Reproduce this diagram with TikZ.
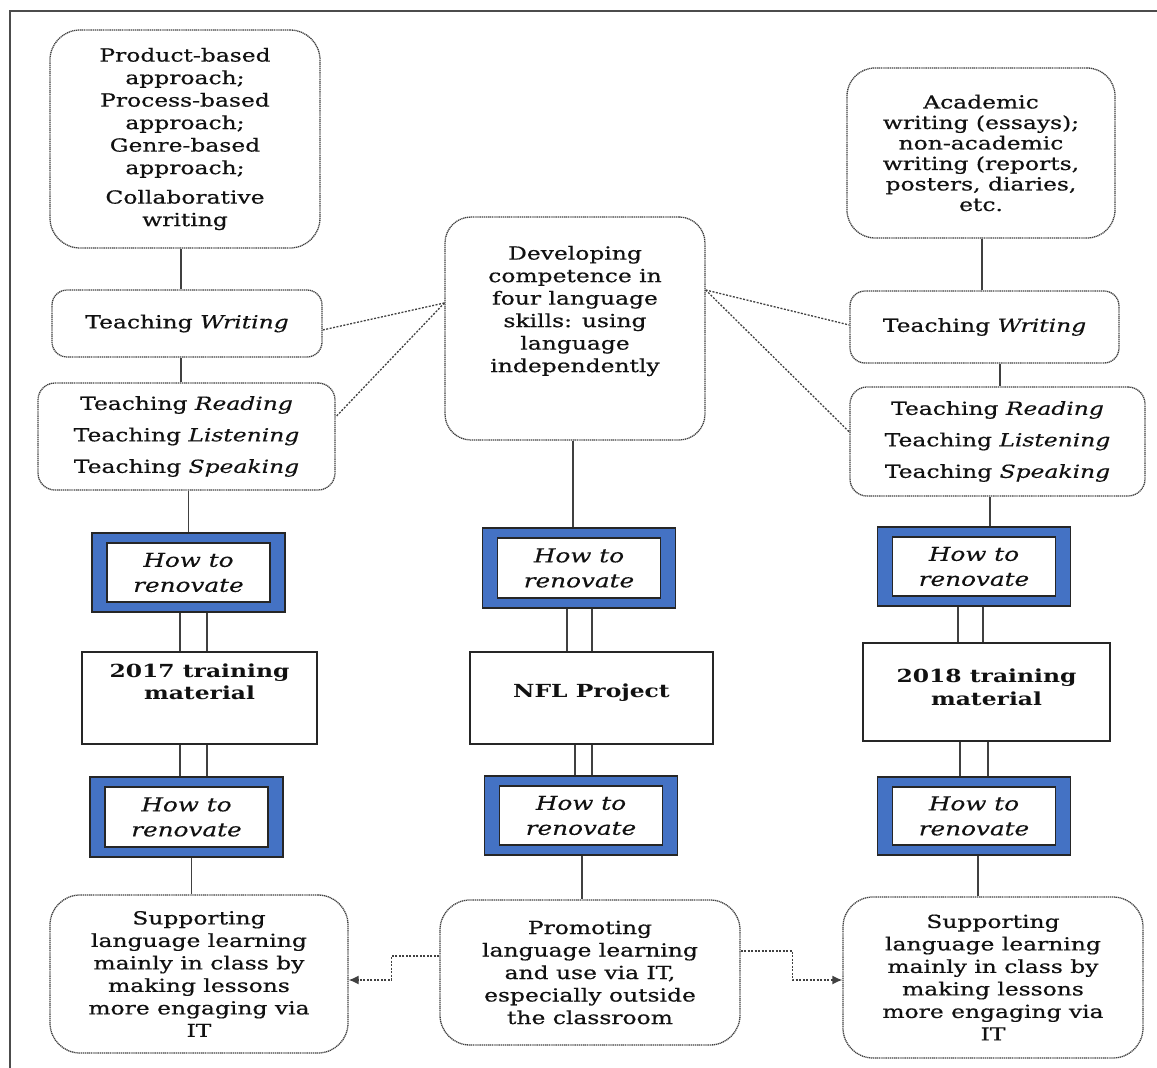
\documentclass[tikz,border=0pt]{standalone}
\usepackage{fontspec}
\setmainfont{DejaVu Serif}[FakeStretch=1.3,
  UprightFeatures={FakeBold=0.6},
  ItalicFeatures={FakeBold=0.3}]
\usetikzlibrary{arrows.meta}
\definecolor{ink}{HTML}{111111}
\definecolor{edge}{HTML}{404040}
\definecolor{band}{HTML}{4472C4}
\begin{document}
\begin{tikzpicture}[x=1pt,y=-1pt,
  every node/.style={text=ink, align=center, inner sep=0pt},
  body/.style={font=\fontsize{18}{22.5}\selectfont},
  rbox/.style={draw=edge, line width=1.3pt, dash pattern=on 1.2pt off 0.7pt,
    rounded corners=#1, fill=white},
  rbox/.default=28pt,
  pbox/.style={draw=black!85, line width=1.4pt, fill=white,
    font=\fontsize{18}{22.5}\selectfont\bfseries},
  hbox/.style={draw=black!85, line width=1.4pt, fill=band,
    minimum width=193pt, minimum height=79pt,
    font=\fontsize{19}{25}\selectfont\itshape,
    path picture={\draw[black!85, line width=1.4pt, fill=white]
      ([xshift=15pt,yshift=-10pt]path picture bounding box.north west) rectangle
      ([xshift=-15pt,yshift=10pt]path picture bounding box.south east);}},
  conn/.style={draw=black!75, line width=1.8pt},
  dotc/.style={draw=edge, line width=1.3pt, dash pattern=on 2pt off 1.5pt},
  tip/.style={-{Latex[length=10pt,width=9pt]}}
]
\useasboundingbox (0,0) rectangle (1157,1068);

% frame
\draw[black!70, line width=1.6pt] (10,1068) -- (10,11) -- (1157,11);

% ---------- left column ----------
\node[rbox=30pt, body, minimum width=270pt, minimum height=218pt] (lA) at (185,139)
  {Product-based\\approach;\\Process-based\\approach;\\Genre-based\\approach;\\[7pt]Collaborative\\writing};
\node[rbox=15pt, body, minimum width=270pt, minimum height=67pt] (lW) at (187,323.5)
  {Teaching \textit{Writing}};
\node[rbox=17pt, font=\fontsize{18}{31.5}\selectfont, minimum width=297pt, minimum height=107pt] (lR) at (186.5,436.5)
  {Teaching \textit{Reading}\\Teaching \textit{Listening}\\Teaching \textit{Speaking}};
\node[hbox] (lH1) at (188.5,572.5) {How to\\renovate};
\node[pbox, minimum width=235pt, minimum height=92pt] (lM) at (199.5,698) {};
\node[font=\fontsize{18}{22.5}\selectfont\bfseries] (lMt) at (199.5,682) {2017 training\\material};
\node[hbox, minimum height=80pt] (lH2) at (186.5,817) {How to\\renovate};
\node[rbox=30pt, body, minimum width=298pt, minimum height=158pt] (lS) at (199,974)
  {Supporting\\language learning\\mainly in class by\\making lessons\\more engaging via\\IT};

% ---------- centre column ----------
\node[rbox=26pt, minimum width=260pt, minimum height=223pt] (cD) at (575,328.5) {};
\node[body] (cDt) at (575,311)
  {Developing\\competence in\\four language\\skills: using\\language\\independently};
\node[hbox, minimum height=80pt] (cH1) at (579,568) {How to\\renovate};
\node[pbox, minimum width=243pt, minimum height=92pt] (cN) at (591.5,698) {};
\node[font=\fontsize{18}{22.5}\selectfont\bfseries] (cNt) at (591.5,693) {NFL Project};
\node[hbox] (cH2) at (581,815.5) {How to\\renovate};
\node[rbox=30pt, body, minimum width=300pt, minimum height=145pt] (cP) at (590,972.5)
  {Promoting\\language learning\\and use via IT,\\especially outside\\the classroom};

% ---------- right column ----------
\node[rbox=28pt, font=\fontsize{18}{20.5}\selectfont, minimum width=268pt, minimum height=170pt] (rA) at (981,153)
  {Academic\\writing (essays);\\non-academic\\writing (reports,\\posters, diaries,\\etc.};
\node[rbox=15pt, body, minimum width=269pt, minimum height=72pt] (rW) at (984.5,327)
  {Teaching \textit{Writing}};
\node[rbox=17pt, font=\fontsize{18}{31.5}\selectfont, minimum width=295pt, minimum height=109pt] (rR) at (997.5,441.5)
  {Teaching \textit{Reading}\\Teaching \textit{Listening}\\Teaching \textit{Speaking}};
\node[hbox] (rH1) at (974,566.5) {How to\\renovate};
\node[pbox, minimum width=247pt, minimum height=98pt] (rM) at (986.5,692) {};
\node[font=\fontsize{18}{22.5}\selectfont\bfseries] (rMt) at (986.5,687.5) {2018 training\\material};
\node[hbox, minimum height=78pt] (rH2) at (974,816) {How to\\renovate};
\node[rbox=30pt, body, minimum width=300pt, minimum height=161pt] (rS) at (993,977.5)
  {Supporting\\language learning\\mainly in class by\\making lessons\\more engaging via\\IT};

% ---------- solid links ----------
\draw[conn] ([xshift=-4pt]lA.south) -- ([xshift=-4pt]lA.south |- lW.north);
\draw[conn] ([xshift=-6pt]lW.south) -- ([xshift=-6pt]lW.south |- lR.north);
\draw[conn] (lH1.north) -- (lH1.north |- lR.south);
\draw[conn] ([xshift=-8.5pt]lH1.south) -- ([xshift=-8.5pt]lH1.south |- lM.north);
\draw[conn] ([xshift=18.5pt]lH1.south) -- ([xshift=18.5pt]lH1.south |- lM.north);
\draw[conn] ([xshift=-6.5pt]lH2.north) -- ([xshift=-6.5pt]lH2.north |- lM.south);
\draw[conn] ([xshift=20.5pt]lH2.north) -- ([xshift=20.5pt]lH2.north |- lM.south);
\draw[conn] ([xshift=5pt]lH2.south) -- ([xshift=5pt]lH2.south |- lS.north);

\draw[conn] ([xshift=-2pt]cD.south) -- ([xshift=-2pt]cD.south |- cH1.north);
\draw[conn] ([xshift=-12pt]cH1.south) -- ([xshift=-12pt]cH1.south |- cN.north);
\draw[conn] ([xshift=13pt]cH1.south) -- ([xshift=13pt]cH1.south |- cN.north);
\draw[conn] ([xshift=-6pt]cH2.north) -- ([xshift=-6pt]cH2.north |- cN.south);
\draw[conn] ([xshift=11pt]cH2.north) -- ([xshift=11pt]cH2.north |- cN.south);
\draw[conn] ([xshift=1pt]cH2.south) -- ([xshift=1pt]cH2.south |- cP.north);

\draw[conn] ([xshift=1pt]rA.south) -- ([xshift=1pt]rA.south |- rW.north);
\draw[conn] ([xshift=15.5pt]rW.south) -- ([xshift=15.5pt]rW.south |- rR.north);
\draw[conn] ([xshift=16pt]rH1.north) -- ([xshift=16pt]rH1.north |- rR.south);
\draw[conn] ([xshift=-16pt]rH1.south) -- ([xshift=-16pt]rH1.south |- rM.north);
\draw[conn] ([xshift=9pt]rH1.south) -- ([xshift=9pt]rH1.south |- rM.north);
\draw[conn] ([xshift=-14pt]rH2.north) -- ([xshift=-14pt]rH2.north |- rM.south);
\draw[conn] ([xshift=14pt]rH2.north) -- ([xshift=14pt]rH2.north |- rM.south);
\draw[conn] ([xshift=4pt]rH2.south) -- ([xshift=4pt]rH2.south |- rS.north);

% ---------- dotted links ----------
\draw[dotc] ([yshift=25.5pt]cD.west) -- ([yshift=-6.5pt]lW.east);
\draw[dotc] ([yshift=25.5pt]cD.west) -- ([yshift=19.5pt]lR.east);
\draw[dotc] ([yshift=38.5pt]cD.east) -- ([yshift=2pt]rW.west);
\draw[dotc] ([yshift=38.5pt]cD.east) -- ([yshift=9.5pt]rR.west);

\draw[dotc, tip] ([yshift=16.5pt]cP.west) -- ++(-48,0) |- ([yshift=-6pt]lS.east);
\draw[dotc, tip] ([yshift=21.5pt]cP.east) -- ++(52,0) |- ([yshift=-2.5pt]rS.west);
\end{tikzpicture}
\end{document}
